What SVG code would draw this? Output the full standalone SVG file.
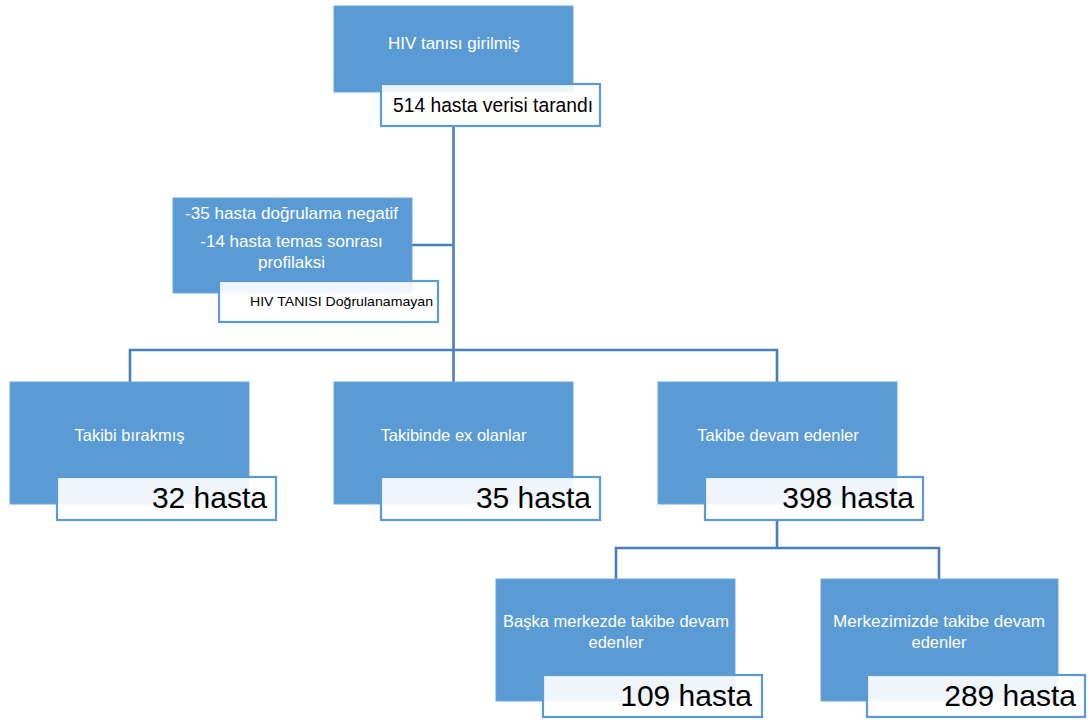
<svg xmlns="http://www.w3.org/2000/svg" width="1091" height="723" viewBox="0 0 1091 723">
<style>
.blue{fill:#5b9bd5;stroke:#6fa7db;stroke-width:1}
.lab{fill:#ffffff;fill-opacity:0.9;stroke:#5b9bd5;stroke-width:2.2}
.conn{fill:none;stroke:#4a7ebb;stroke-width:2.6}
.wt{font-family:"Liberation Sans",Arial,sans-serif;fill:#ffffff;text-anchor:middle}
.big{font-family:"Liberation Sans",Arial,sans-serif;fill:#000000;font-size:30px;text-anchor:end}
.sm{font-family:"Liberation Sans",Arial,sans-serif;fill:#000000;text-anchor:end}
</style>
<rect width="1091" height="723" fill="#ffffff"/>
<g id="connectors">
<path class="conn" d="M453.5 126 V382"/>
<path class="conn" d="M411 245 H453.5"/>
<path class="conn" d="M130 382 V350 H777 V382"/>
<path class="conn" d="M777 520 V548 M616 579 V548 H939 V579"/>
</g>
<g id="node-top">
<rect class="blue" x="334" y="6" width="239" height="86"/>
<text class="wt" x="454" y="49" font-size="17">HIV tanısı girilmiş</text>
<rect class="lab" x="381" y="84" width="219" height="42"/>
<text class="sm" x="593" y="112" font-size="19.3" textLength="200" lengthAdjust="spacingAndGlyphs">514 hasta verisi tarandı</text>
</g>
<g id="node-excluded">
<rect class="blue" x="173" y="198" width="239" height="95"/>
<text class="wt" x="291.5" y="219" font-size="17" textLength="213" lengthAdjust="spacingAndGlyphs">-35 hasta doğrulama negatif</text>
<text class="wt" x="291.5" y="247" font-size="17">-14 hasta temas sonrası</text>
<text class="wt" x="291.5" y="268" font-size="17">profilaksi</text>
<rect class="lab" x="219" y="281" width="219" height="41"/>
<text class="sm" x="433" y="306" font-size="13.5" textLength="183" lengthAdjust="spacingAndGlyphs">HIV TANISI Doğrulanamayan</text>
</g>
<g id="node-left">
<rect class="blue" x="10" y="382" width="239" height="122"/>
<text class="wt" x="129.5" y="441" font-size="16.5">Takibi bırakmış</text>
<rect class="lab" x="57" y="477" width="219" height="43"/>
<text class="big" x="267" y="508">32 hasta</text>
</g>
<g id="node-mid">
<rect class="blue" x="334" y="382" width="239" height="122"/>
<text class="wt" x="453.5" y="441" font-size="16.5">Takibinde ex olanlar</text>
<rect class="lab" x="381" y="477" width="219" height="43"/>
<text class="big" x="591" y="508">35 hasta</text>
</g>
<g id="node-right">
<rect class="blue" x="658" y="382" width="239" height="122"/>
<text class="wt" x="778" y="441" font-size="16.5">Takibe devam edenler</text>
<rect class="lab" x="705" y="477" width="218" height="43"/>
<text class="big" x="914" y="508">398 hasta</text>
</g>
<g id="node-other-center">
<rect class="blue" x="496" y="579" width="239" height="122"/>
<text class="wt" x="616" y="627" font-size="16.5" textLength="226" lengthAdjust="spacingAndGlyphs">Başka merkezde takibe devam</text>
<text class="wt" x="616" y="648" font-size="16.5">edenler</text>
<rect class="lab" x="543" y="675" width="219" height="42"/>
<text class="big" x="752" y="706">109 hasta</text>
</g>
<g id="node-our-center">
<rect class="blue" x="821" y="579" width="237" height="122"/>
<text class="wt" x="939" y="627" font-size="16.5" textLength="212" lengthAdjust="spacingAndGlyphs">Merkezimizde takibe devam</text>
<text class="wt" x="939" y="648" font-size="16.5">edenler</text>
<rect class="lab" x="867" y="675" width="218" height="42"/>
<text class="big" x="1076" y="706">289 hasta</text>
</g>
</svg>
